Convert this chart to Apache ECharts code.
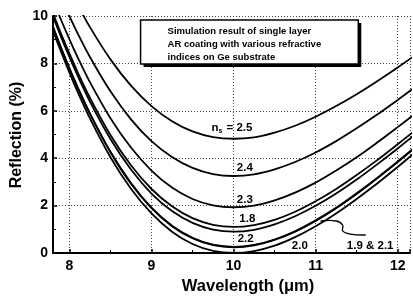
<!DOCTYPE html>
<html><head><meta charset="utf-8">
<script src="https://cdn.jsdelivr.net/npm/echarts@6/dist/echarts.min.js"></script>
<style>html,body{margin:0;padding:0;background:#fff}#c{width:413px;height:296px}</style>
</head><body><div id="c"></div>
<script>
// Wavelength (µm)
const wavelengths = [7.8,7.9,8.0,8.1,8.25,8.5,8.75,9.0,9.25,9.5,9.75,10.0,10.25,10.5,10.75,11.0,11.25,11.5,11.75,12.0,12.2];
// Reflection (%) for each coating index n_s
const r25 = [12.64,11.88,11.16,10.47,9.53,8.17,7.06,6.20,5.56,5.13,4.89,4.82,4.88,5.08,5.37,5.75,6.20,6.70,7.25,7.83,8.31];
const r24 = [11.56,10.76,10.00,9.27,8.27,6.82,5.64,4.72,4.05,3.59,3.33,3.25,3.32,3.53,3.84,4.24,4.72,5.26,5.84,6.46,6.97];
const r23 = [10.66,9.82,9.02,8.26,7.21,5.69,4.45,3.48,2.76,2.28,2.01,1.93,2.00,2.22,2.55,2.97,3.48,4.04,4.66,5.31,5.84];
const r22 = [9.97,9.10,8.27,7.48,6.39,4.81,3.52,2.51,1.77,1.27,0.99,0.90,0.98,1.21,1.55,1.99,2.51,3.10,3.74,4.41,4.97];
const r21 = [9.53,8.63,7.78,6.98,5.87,4.25,2.92,1.89,1.13,0.62,0.33,0.24,0.32,0.55,0.90,1.35,1.89,2.49,3.15,3.84,4.41];
const r20 = [9.37,8.47,7.61,6.80,5.68,4.04,2.71,1.67,0.90,0.38,0.09,0.00,0.08,0.31,0.67,1.13,1.67,2.28,2.93,3.63,4.21];
const r19 = [9.54,8.65,7.80,7.00,5.89,4.27,2.95,1.91,1.15,0.64,0.35,0.26,0.34,0.57,0.92,1.38,1.91,2.52,3.17,3.86,4.43];
const r18 = [10.11,9.24,8.42,7.63,6.55,4.98,3.70,2.70,1.97,1.47,1.19,1.10,1.18,1.40,1.74,2.18,2.70,3.29,3.92,4.59,5.14];
const seriesNames = ['2.5','2.4','2.3','2.2','2.1','2.0','1.9','1.8'];
const seriesValues = [r25,r24,r23,r22,r21,r20,r19,r18];
// Curve labels: [text, wavelength, reflection]
const curveLabels = [
  ['2.4',10.04,3.59],['2.3',10.04,2.24],['1.8',10.07,1.43],['2.2',10.05,0.59],
  ['2.0',10.71,0.30],['1.9 & 2.1',11.38,0.30]
];
const nsLabel = [9.73,5.27];
const leader = [[11.06,1.35],[11.25,1.35],[11.33,1.18],[11.33,0.93],[11.42,0.80],[11.61,0.76]];
const boxLines = ['Simulation result of single layer','AR coating with various refractive','indices on Ge substrate'];
const xTicks = [8,9,10,11,12];
const yTicks = [0,2,4,6,8,10];

const FONT = '"Liberation Sans", Arial, sans-serif';
const chart = echarts.init(document.getElementById('c'), null, {renderer:'canvas'});
const gridLine = {show:true, lineStyle:{color:'#444', type:[1,2], width:1}};
chart.setOption({
  animation:false,
  backgroundColor:'#fff',
  grid:{left:53, right:3, top:16, bottom:43, containLabel:false},
  xAxis:{type:'value', min:7.8, max:12.15, splitNumber:4,
    axisLine:{lineStyle:{color:'#000', width:2}},
    axisTick:{inside:true, length:4, lineStyle:{color:'#000', width:1.5}},
    minorTick:{show:true, splitNumber:2, length:3, lineStyle:{color:'#000'}},
    axisLabel:{color:'#000', fontFamily:FONT, fontWeight:'bold', fontSize:14, margin:6,
      showMinLabel:false, showMaxLabel:false,
      formatter:v=> xTicks.includes(Math.round(v*100)/100) ? String(Math.round(v)) : ''},
    splitLine:gridLine},
  yAxis:{type:'value', min:0, max:10, interval:2,
    axisLine:{show:true, lineStyle:{color:'#000', width:2}},
    axisTick:{show:true, inside:true, length:4, lineStyle:{color:'#000', width:1.5}},
    minorTick:{show:true, splitNumber:2, length:3, lineStyle:{color:'#000'}},
    axisLabel:{color:'#000', fontFamily:FONT, fontWeight:'bold', fontSize:14, margin:5,
      formatter:v=> yTicks.includes(v) ? String(v) : ''},
    splitLine:gridLine},
  series: seriesNames.map((n,i)=>({
    type:'line', name:n, smooth:0.35, symbol:'none', clip:true,
    lineStyle:{color:'#000', width:1.8},
    data: wavelengths.map((w,j)=>[w, seriesValues[i][j]])
  }))
});

const P = (x,y)=>chart.convertToPixel({gridIndex:0},[x,y]);
const g = [];
// annotation box
const b1 = P(8.867,9.83), b2 = P(11.52,7.97);
g.push({type:'rect', shape:{x:b1[0]+3, y:b1[1]+3, width:b2[0]-b1[0], height:b2[1]-b1[1]}, style:{fill:'#000'}, z:100});
g.push({type:'rect', shape:{x:b1[0], y:b1[1], width:b2[0]-b1[0], height:b2[1]-b1[1]}, style:{fill:'#fff', stroke:'#000', lineWidth:1.5}, z:101});
boxLines.forEach((t,i)=>{
  g.push({type:'text', x:b1[0]+27, y:b1[1]+11+i*13, z:102,
    style:{text:t, fill:'#000', font:'bold 9.5px '+FONT, textVerticalAlign:'middle'}});
});
// ns label
const nl = P(nsLabel[0], nsLabel[1]);
g.push({type:'text', x:nl[0], y:nl[1], z:102, style:{
  text:'{n|n}{s|s}{n| = 2.5}', textVerticalAlign:'middle', fill:'#000',
  rich:{n:{font:'bold 11.5px '+FONT, fill:'#000'}, s:{font:'bold 7px '+FONT, fill:'#000', padding:[6,1,0,0]}}}});
curveLabels.forEach(([t,x,y])=>{
  const p = P(x,y);
  g.push({type:'text', x:p[0], y:p[1], z:102, style:{text:t, fill:'#000', font:'bold 11.5px '+FONT, textVerticalAlign:'middle'}});
});
g.push({type:'polyline', z:102, shape:{points:leader.map(p=>P(p[0],p[1])), smooth:0.4}, style:{stroke:'#000', lineWidth:1.3, fill:null}});
// axis titles
g.push({type:'text', x:248, y:286, z:102, style:{text:'Wavelength (μm)', fill:'#000', font:'bold 16.5px '+FONT, textAlign:'center', textVerticalAlign:'middle'}});
g.push({type:'text', x:17, y:135, rotation:Math.PI/2, z:102, style:{text:'Reflection (%)', fill:'#000', font:'bold 16px '+FONT, textAlign:'center', textVerticalAlign:'middle'}});
chart.setOption({graphic:g});
</script>
</body></html>
